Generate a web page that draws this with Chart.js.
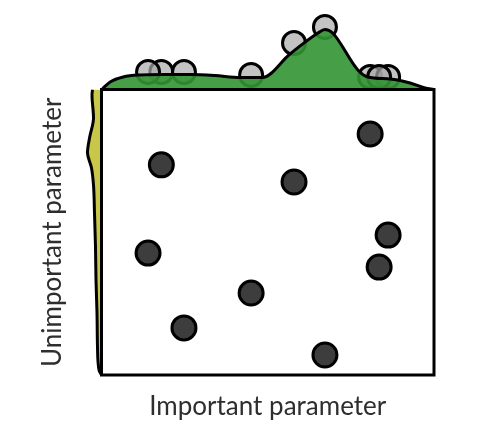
<!DOCTYPE html>
<html>
<head>
<meta charset="utf-8">
<script src="https://cdn.jsdelivr.net/npm/chart.js@4.4.1/dist/chart.umd.min.js"></script>
<style>
    html, body { margin: 0; padding: 0; background: #fff; }
    #wrap { position: relative; width: 490px; height: 448px; }
    #wrap canvas { position: absolute; left: 0; top: 0; }
</style>
</head>
<body>
<div id="wrap">
    <canvas id="topChart" width="490" height="448"></canvas>
    <canvas id="sideChart" width="490" height="448"></canvas>
    <canvas id="mainChart" width="490" height="448"></canvas>
</div>
<script>
// sampled points (normalised 0..1)
const importantParam   = [0.180, 0.579, 0.808, 0.140, 0.862, 0.835, 0.450, 0.248, 0.672];
const unimportantParam = [0.736, 0.676, 0.844, 0.427, 0.490, 0.378, 0.287, 0.165, 0.070];
// where each sample sits on the top marginal
const topMarkHeight    = [17.5, 46.5, 12.5, 17.5, 12.5, 12.5, 14.5, 17.5, 62.5];

// top marginal density (important parameter)
const topCurveX = [0, 0.026, 0.065, 0.116, 0.191, 0.266, 0.341, 0.417, 0.483, 0.567, 0.651, 0.672, 0.695, 0.771, 0.801, 0.868, 0.928, 0.973, 1];
const topCurveY = [0, 7.5, 12.5, 14.5, 15, 15, 14, 12, 12, 35.5, 56.5, 60, 56.5, 19.5, 12.5, 10.5, 6.5, 1.5, 0];

// left marginal density (unimportant parameter)
const sideCurveY = [0, 0.018, 0.098, 0.217, 0.333, 0.448, 0.567, 0.665, 0.725, 0.779, 0.830, 0.900, 0.981, 1];
const sideCurveW = [0, 2.5, 4, 4.5, 5.5, 6, 7, 8, 10, 14, 12, 8, 9.5, 9];

const labelX = 'Important parameter';
const labelY = 'Unimportant parameter';

Chart.defaults.font.family = 'Lato';

const hidden = { display: false };

const boxPlugin = {
    id: 'box',
    afterDatasetsDraw(chart) {
        const { ctx, chartArea: a } = chart;
        ctx.save();
        ctx.strokeStyle = '#000';
        ctx.lineWidth = 3;
        ctx.strokeRect(a.left, a.top, a.right - a.left, a.bottom - a.top);
        ctx.restore();
    }
};

// top marginal
new Chart(document.getElementById('topChart'), {
    type: 'line',
    data: {
        datasets: [
            {
                data: topCurveX.map((x, i) => ({ x, y: topCurveY[i] })),
                borderColor: '#000',
                borderWidth: 3,
                backgroundColor: 'rgba(50,148,50,0.9)',
                fill: 'origin',
                pointRadius: 0,
                cubicInterpolationMode: 'monotone',
                order: 0
            },
            {
                type: 'scatter',
                data: importantParam.map((x, i) => ({ x, y: topMarkHeight[i] })),
                pointRadius: 11.5,
                pointBorderWidth: 3,
                pointBackgroundColor: 'rgba(170,170,170,0.7)',
                pointBorderColor: '#000',
                order: 1
            }
        ]
    },
    options: {
        responsive: false,
        animation: false,
        layout: { autoPadding: false, padding: { left: 101.5, right: 56, top: 9.5, bottom: 358.5 } },
        plugins: { legend: hidden, tooltip: { enabled: false } },
        scales: {
            x: { type: 'linear', min: 0, max: 1, display: false },
            y: { min: 0, max: 80, display: false }
        }
    }
});

// left marginal
new Chart(document.getElementById('sideChart'), {
    type: 'line',
    data: {
        datasets: [{
            data: sideCurveY.map((y, i) => ({ x: sideCurveW[i], y })),
            borderColor: '#000',
            borderWidth: 3,
            backgroundColor: 'rgba(198,196,62,0.95)',
            fill: 'origin',
            pointRadius: 0,
            cubicInterpolationMode: 'monotone'
        }]
    },
    options: {
        indexAxis: 'y',
        responsive: false,
        animation: false,
        layout: { autoPadding: false, padding: { left: 81.5, right: 388.5, top: 89.5, bottom: 73 } },
        plugins: { legend: hidden, tooltip: { enabled: false } },
        scales: {
            x: { type: 'linear', min: 0, max: 20, reverse: true, display: false },
            y: { type: 'linear', min: 0, max: 1, display: false }
        }
    }
});

// main scatter
new Chart(document.getElementById('mainChart'), {
    type: 'scatter',
    data: {
        datasets: [{
            data: importantParam.map((x, i) => ({ x, y: unimportantParam[i] })),
            pointRadius: 12,
            pointBorderWidth: 3,
            pointBackgroundColor: '#3d3d3d',
            pointBorderColor: '#000'
        }]
    },
    options: {
        responsive: false,
        animation: false,
        layout: { autoPadding: false, padding: { left: 0, right: 56, top: 89.5, bottom: 0 } },
        plugins: { legend: hidden, tooltip: { enabled: false } },
        scales: {
            x: {
                min: 0, max: 1,
                ticks: { display: false },
                grid: { display: false, drawTicks: false },
                border: { display: false },
                title: { display: true, text: labelX, color: '#2e2e2e', font: { size: 26 }, padding: { top: 16.4, bottom: 25.4 } }
            },
            y: {
                min: 0, max: 1,
                ticks: { display: false },
                grid: { display: false, drawTicks: false },
                border: { display: false },
                title: { display: true, text: labelY, color: '#2e2e2e', font: { size: 26 }, padding: { top: 37.4, bottom: 32.9 } }
            }
        }
    },
    plugins: [boxPlugin]
});
</script>
</body>
</html>
